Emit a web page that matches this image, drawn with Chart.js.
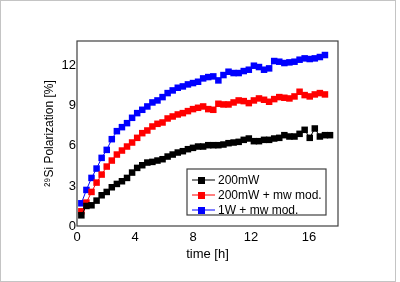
<!DOCTYPE html>
<html><head><meta charset="utf-8">
<script src="https://cdn.jsdelivr.net/npm/chart.js@4/dist/chart.umd.min.js"></script>
<style>html,body{margin:0;padding:0;background:#fff}#wrap{position:relative;width:400px;height:282px}</style>
</head><body><div id="wrap"><canvas id="c" width="400" height="282"></canvas></div>
<script>
const times = [0.30,0.65,1.00,1.35,1.70,2.05,2.40,2.75,3.10,3.45,3.80,4.15,4.50,4.85,5.20,5.55,5.90,6.25,6.60,6.95,7.30,7.65,8.00,8.35,8.70,9.05,9.40,9.75,10.10,10.45,10.80,11.15,11.50,11.85,12.20,12.55,12.90,13.25,13.60,13.95,14.30,14.65,15.00,15.35,15.70,16.05,16.40,16.75,17.10,17.45];
const p200mW = [0.8,1.5,1.55,1.9,2.3,2.55,2.9,3.15,3.35,3.6,4.0,4.35,4.55,4.75,4.8,4.9,5.0,5.2,5.35,5.5,5.6,5.75,5.85,5.95,5.95,6.05,6.05,6.05,6.1,6.2,6.25,6.3,6.45,6.55,6.35,6.35,6.45,6.45,6.55,6.6,6.8,6.7,6.7,6.9,7.2,6.6,7.3,6.7,6.8,6.8];
const p200mWmod = [1.1,1.75,2.55,3.25,3.85,4.45,4.9,5.35,5.65,5.95,6.25,6.6,6.95,7.15,7.45,7.65,7.75,8.05,8.2,8.35,8.45,8.6,8.75,8.85,8.95,8.75,8.7,9.15,9.1,9.1,9.25,9.4,9.35,9.2,9.4,9.55,9.45,9.3,9.5,9.65,9.6,9.55,9.7,10.05,9.8,9.7,9.85,9.95,9.85];
const p1Wmod = [1.7,2.7,3.6,4.3,5.1,5.7,6.5,7.1,7.4,7.7,8.1,8.45,8.7,8.95,9.25,9.4,9.65,9.95,10.15,10.35,10.45,10.6,10.7,10.8,11.05,11.15,11.2,10.9,11.3,11.55,11.45,11.45,11.6,11.7,12.0,11.9,11.7,11.8,12.35,12.3,12.2,12.25,12.3,12.45,12.55,12.5,12.55,12.65,12.8];
const seriesNames = ['200mW','200mW + mw mod.','1W + mw mod.'];
const seriesColors = ['#000000','#ff0000','#0000ff'];
const xTicks = [0,4,8,12,16];
const yTicks = [0,3,6,9,12];

const toXY = arr => arr.map((v,i)=>({x:times[i],y:v}));
const allSeries = [p200mW,p200mWmod,p1Wmod];
const FONT = 'Liberation Sans, Arial, sans-serif';

const framePlugin = {
  id:'frame',
  beforeDraw(chart){
    const ctx=chart.ctx;
    ctx.save();
    ctx.strokeStyle='#c4c4c4';ctx.lineWidth=1;
    ctx.strokeRect(0.5,0.5,395,281);
    ctx.restore();
  },
  afterDraw(chart){
    const ctx=chart.ctx, a=chart.chartArea;
    ctx.save();
    ctx.strokeStyle='#404040';ctx.lineWidth=1.2;
    ctx.strokeRect(a.left,a.top,a.right-a.left,a.bottom-a.top);
    // legend box
    const bw=139,bh=46;
    const bx=a.right-12-bw, by=a.bottom-11-bh;
    ctx.fillStyle='#fff';ctx.fillRect(bx,by,bw,bh);
    ctx.strokeStyle='#404040';ctx.lineWidth=1.2;ctx.strokeRect(bx,by,bw,bh);
    ctx.font='12px '+FONT;ctx.textBaseline='middle';ctx.textAlign='left';
    for(let i=0;i<3;i++){
      const yy=by+11+i*15;
      ctx.strokeStyle=seriesColors[i];ctx.lineWidth=1;
      ctx.beginPath();ctx.moveTo(bx+5,yy);ctx.lineTo(bx+28,yy);ctx.stroke();
      ctx.fillStyle=seriesColors[i];ctx.fillRect(bx+11,yy-3,7,7);
      ctx.fillStyle='#000';ctx.fillText(seriesNames[i],bx+31,yy+0.5);
    }
    ctx.restore();
  }
};

new Chart(document.getElementById('c'),{
  type:'scatter',
  data:{datasets:allSeries.map((s,i)=>({
    label:seriesNames[i],data:toXY(s),showLine:true,
    borderColor:seriesColors[i],backgroundColor:seriesColors[i],
    borderWidth:1,pointStyle:'rect',pointRadius:4.6,pointHoverRadius:4.6,pointBorderWidth:0
  }))},
  options:{
    responsive:false,animation:false,
    layout:{padding:{left:42,right:62,top:41,bottom:20}},
    plugins:{legend:{display:false},tooltip:{enabled:false}},
    scales:{
      x:{type:'linear',min:0,max:18,
        afterBuildTicks:s=>{s.ticks=xTicks.map(v=>({value:v}));},
        afterFit:s=>{s.height=36;},
        grid:{display:false,drawTicks:false},border:{display:false},
        ticks:{color:'#000',font:{family:FONT,size:13},padding:4,maxRotation:0},
        title:{display:true,text:'time [h]',color:'#000',font:{family:FONT,size:13},padding:{top:2,bottom:0}}
      },
      y:{type:'linear',min:0,max:13.85,
        afterBuildTicks:s=>{s.ticks=yTicks.map(v=>({value:v}));},
        afterFit:s=>{s.width=35;},
        grid:{display:false,drawTicks:false},border:{display:false},
        ticks:{color:'#000',font:{family:FONT,size:13},padding:1},
        title:{display:true,text:'²⁹Si Polarization [%]',color:'#000',font:{family:FONT,size:12},padding:{top:0,bottom:8}}
      }
    }
  },
  plugins:[framePlugin]
});
</script></body></html>
